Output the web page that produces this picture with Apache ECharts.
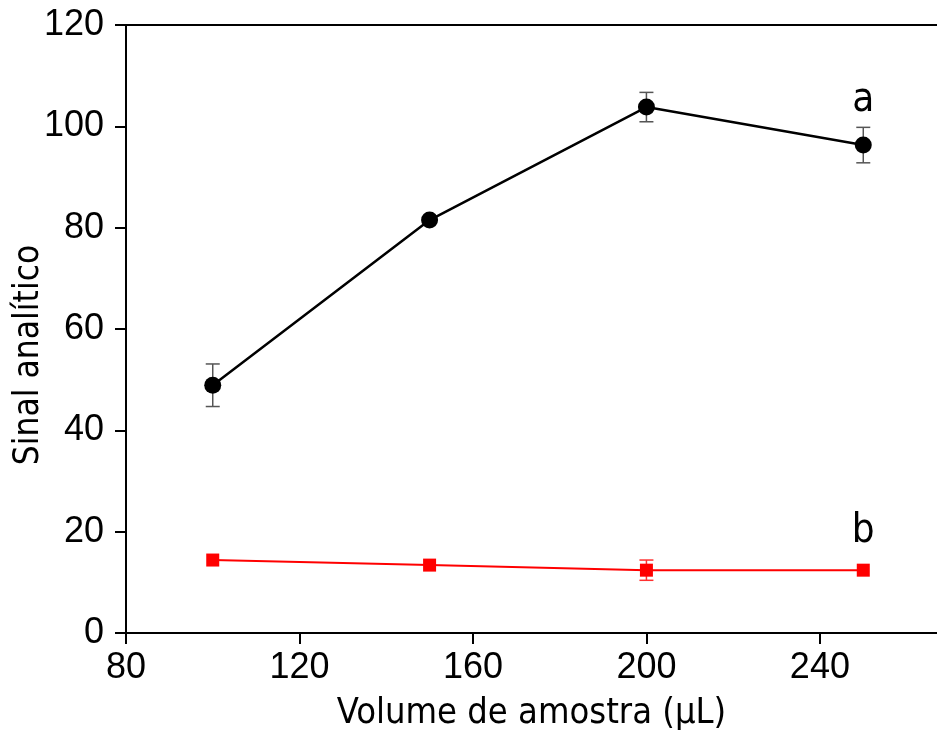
<!DOCTYPE html>
<html>
<head>
<meta charset="utf-8">
<script src="https://cdn.jsdelivr.net/npm/echarts@6/dist/echarts.min.js"></script>
<style>html,body{margin:0;padding:0;background:#fff}#c{width:937px;height:733px}</style>
</head>
<body>
<div id="c"></div>
<script>
const volumes = [100, 150, 200, 250];
const seriesA = [48.9, 81.5, 103.8, 96.3];
const errA = [4.2, 0, 2.9, 3.5];
const seriesB = [14.4, 13.4, 12.4, 12.4];
const errB = [0, 0, 2.0, 0];
const xTicks = [80, 120, 160, 200, 240];
const yTicks = [0, 20, 40, 60, 80, 100, 120];

const chart = echarts.init(document.getElementById('c'));

function pts(vals) { return vals.map((v, i) => [volumes[i], v]); }
function errData(vals, errs) {
  return vals.map((v, i) => [volumes[i], v - errs[i], v + errs[i]]).filter((d, i) => errs[i] > 0);
}
function errRender(color) {
  return function (params, api) {
    const x = api.value(0);
    const lo = api.coord([x, api.value(1)]);
    const hi = api.coord([x, api.value(2)]);
    const w = 7;
    const style = { stroke: color, lineWidth: 1.5 };
    return {
      type: 'group',
      children: [
        { type: 'line', shape: { x1: lo[0], y1: lo[1], x2: hi[0], y2: hi[1] }, style },
        { type: 'line', shape: { x1: lo[0] - w, y1: lo[1], x2: lo[0] + w, y2: lo[1] }, style },
        { type: 'line', shape: { x1: hi[0] - w, y1: hi[1], x2: hi[0] + w, y2: hi[1] }, style }
      ]
    };
  };
}
const titleFont = 'Tahoma, "DejaVu Sans Condensed", "DejaVu Sans"';
function lastLabel(vals, text, dist) {
  return pts(vals).map((p, i) => i === vals.length - 1 ? {
    value: p,
    label: { show: true, formatter: text, position: 'top', distance: dist,
      fontFamily: titleFont, fontSize: 40, color: '#000' }
  } : p);
}

const axisFont = { fontFamily: '"Liberation Sans Narrow", "Liberation Sans", Arial', fontSize: 36, color: '#000' };

chart.setOption({
  animation: false,
  grid: { left: 126, top: 25, bottom: 100, right: 0, outerBoundsMode: 'none', containLabel: false },
  xAxis: [{
    type: 'value', min: 80, max: 267, interval: 40,
    name: 'Volume de amostra (µL)', nameLocation: 'middle', nameGap: 63,
    nameTextStyle: { fontFamily: titleFont, fontSize: 36, color: '#000' },
    axisLine: { lineStyle: { color: '#000', width: 2 } },
    axisTick: { inside: false, length: 11, lineStyle: { color: '#000', width: 2 } },
    axisLabel: Object.assign({ margin: 17, showMaxLabel: false, formatter: v => xTicks.includes(v) ? String(v) : '' }, axisFont),
    splitLine: { show: false }
  }, {
    type: 'value', min: 80, max: 267, interval: 40, position: 'top',
    axisLine: { show: true, onZero: false, lineStyle: { color: '#000', width: 2 } },
    axisTick: { show: false }, axisLabel: { show: false }, splitLine: { show: false }
  }],
  yAxis: {
    type: 'value', min: 0, max: 120, interval: 20,
    name: 'Sinal analítico', nameLocation: 'middle', nameGap: 80, nameMoveOverlap: false,
    nameTextStyle: { fontFamily: titleFont, fontSize: 35, color: '#000', padding: [0, 52, 0, 0] },
    axisLine: { lineStyle: { color: '#000', width: 2 } },
    axisTick: { inside: false, length: 11, lineStyle: { color: '#000', width: 2 } },
    axisLabel: Object.assign({ margin: 22, formatter: v => yTicks.includes(v) ? String(v) : '' }, axisFont),
    splitLine: { show: false }
  },
  series: [
    { type: 'custom', renderItem: errRender('#555'), data: errData(seriesA, errA), z: 1 },
    { type: 'custom', renderItem: errRender('#ff3030'), data: errData(seriesB, errB), z: 1 },
    {
      type: 'line', data: lastLabel(seriesA, 'a', 16), symbol: 'circle', symbolSize: 17,
      lineStyle: { color: '#000', width: 2.5 }, itemStyle: { color: '#000' }, z: 3
    },
    {
      type: 'line', data: lastLabel(seriesB, 'b', 12), symbol: 'rect', symbolSize: 13,
      lineStyle: { color: '#ff0000', width: 2 }, itemStyle: { color: '#ff0000' }, z: 3
    }
  ]
});
</script>
</body>
</html>
